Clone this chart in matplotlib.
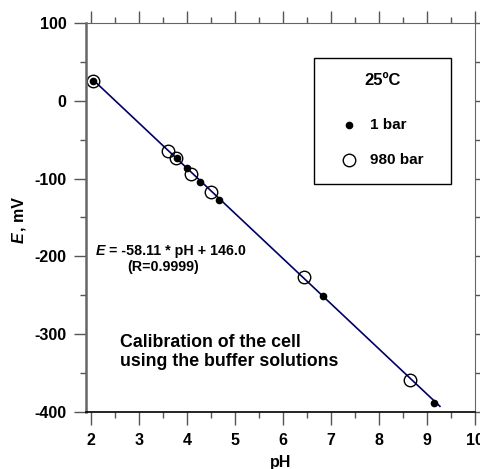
import matplotlib
matplotlib.use("Agg")
import matplotlib.pyplot as plt
from matplotlib.ticker import MultipleLocator

plt.rcParams['font.family'] = ['Liberation Sans', 'DejaVu Sans']
plt.rcParams['font.weight'] = 'bold'
plt.rcParams['axes.unicode_minus'] = False

# dados
ph_1bar = [2.04, 3.79, 4.01, 4.27, 4.68, 6.84, 9.15]
e_1bar = [26, -73, -87, -104, -127, -251, -389]
ph_980 = [2.04, 3.61, 3.77, 4.09, 4.50, 6.44, 8.65]
e_980 = [26, -64, -73, -94, -117, -227, -359]
fit_slope = -58.11
fit_icpt = 146.0
fit_range = [2.04, 9.27]

fig = plt.figure(figsize=(4.8, 4.69), dpi=100)
ax = fig.add_axes([0.179, 0.1215, 0.8106, 0.8295])

# reta de ajuste
fit_e = [fit_slope * p + fit_icpt for p in fit_range]
ax.plot(fit_range, fit_e, color='#000066', lw=1.2, zorder=1)

ax.plot(ph_980, e_980, 'o', ms=9, mfc='none', mec='black', mew=1.0, zorder=2)
ax.plot(ph_1bar, e_1bar, 'o', ms=4.5, color='black', zorder=3)

ax.set_xlim(1.9, 10)
ax.set_ylim(-400, 100)
ax.xaxis.set_major_locator(MultipleLocator(1))
ax.xaxis.set_minor_locator(MultipleLocator(0.5))
ax.yaxis.set_major_locator(MultipleLocator(100))
ax.yaxis.set_minor_locator(MultipleLocator(50))
ax.tick_params(which='both', direction='out', top=True, right=True,
               labelsize=11.5, width=1, color='#555555')
ax.tick_params(which='major', length=9, pad=5)
ax.tick_params(axis='x', which='major', pad=6)
ax.tick_params(which='minor', length=4.5)
for lbl in ax.get_xticklabels() + ax.get_yticklabels():
    lbl.set_fontweight('bold')

for s in ['left', 'top', 'right']:
    ax.spines[s].set_color('#666666')
ax.spines['left'].set_linewidth(1.8)
ax.spines['bottom'].set_color('black')
ax.spines['bottom'].set_linewidth(1.2)

# rótulos dos eixos
fig.text(0.584, 1 - 462 / 469, 'pH', fontsize=11.5, fontweight='bold', ha='center', va='center')
fig.text(0.0396, 1 - 238 / 469, 'E', rotation=90, fontsize=11.5, fontweight='bold',
         style='italic', ha='center', va='center')
fig.text(0.0396, 1 - 214 / 469, ', mV', rotation=90, fontsize=11.5, fontweight='bold',
         ha='center', va='center')

# legenda desenhada manualmente
ax.add_patch(plt.Rectangle((6.65, -107), 2.85, 162.5, fill=False, lw=1, ec='black', zorder=4))
ax.text(8.07, 25.5, '25ºC', ha='center', va='center', fontsize=12, fontweight='bold')
ax.plot([7.37], [-31], 'o', ms=4.5, color='black')
ax.text(7.82, -31, '1 bar', ha='left', va='center', fontsize=11, fontweight='bold')
ax.plot([7.37], [-76], 'o', ms=9, mfc='none', mec='black', mew=1.0)
ax.text(7.82, -76, '980 bar', ha='left', va='center', fontsize=11, fontweight='bold')

ax.text(2.11, -193, 'E', fontsize=10.3, fontweight='bold', style='italic',
        ha='left', va='center')
ax.text(2.38, -193, '= -58.11 * pH + 146.0', fontsize=10.3, fontweight='bold',
        ha='left', va='center')
ax.text(2.75, -213, '(R=0.9999)', fontsize=10.3, fontweight='bold', ha='left', va='center')
ax.text(2.6, -323, 'Calibration of the cell\nusing the buffer solutions', fontsize=12.8,
        fontweight='bold', ha='left', va='center', linespacing=1.1)

fig.savefig('out.png', dpi=100)
